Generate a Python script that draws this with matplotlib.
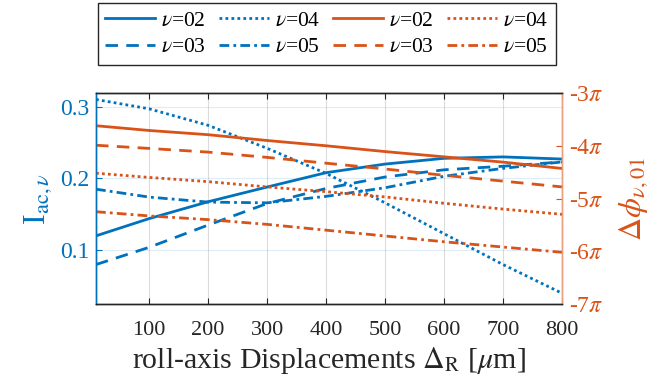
import numpy as np
import matplotlib
matplotlib.use("Agg")
import matplotlib.pyplot as plt

plt.rcParams['font.family'] = ['Liberation Serif', 'DejaVu Serif']
plt.rcParams['mathtext.fontset'] = 'stix'
plt.rcParams['lines.scale_dashes'] = False

# displacement grid [um]
disp = [10, 100, 200, 300, 400, 500, 600, 700, 800]

# I_ac,nu (left axis)
iac_02 = [0.120, 0.144, 0.1675, 0.188, 0.208, 0.220, 0.228, 0.230, 0.227]
iac_03 = [0.080, 0.104, 0.135, 0.165, 0.186, 0.202, 0.212, 0.217, 0.223]
iac_04 = [0.310, 0.297, 0.274, 0.242, 0.207, 0.166, 0.123, 0.080, 0.040]
iac_05 = [0.185, 0.174, 0.167, 0.166, 0.175, 0.187, 0.203, 0.214, 0.223]

# delta phi_nu,01 in units of pi (right axis)
dphi_02 = [-3.62, -3.71, -3.79, -3.90, -4.00, -4.11, -4.21, -4.31, -4.43]
dphi_03 = [-3.99, -4.05, -4.12, -4.22, -4.33, -4.44, -4.56, -4.67, -4.78]
dphi_04 = [-4.52, -4.60, -4.68, -4.78, -4.87, -4.97, -5.09, -5.20, -5.30]
dphi_05 = [-5.25, -5.33, -5.40, -5.49, -5.60, -5.71, -5.82, -5.92, -6.02]

labels = [r'$\nu$=02', r'$\nu$=03', r'$\nu$=04', r'$\nu$=05']
xticks = [100, 200, 300, 400, 500, 600, 700, 800]
left_ticks = [0.1, 0.2, 0.3]
right_ticks = [-7, -6, -5, -4, -3]

blue = '#0072BD'
orange = '#D95319'
dark = '#262626'
styles = ['-', (0, (9, 6)), (0, (2, 2.3)), (0, (7, 3, 2, 3))]

fig = plt.figure(figsize=(6.65, 3.86), dpi=100)
ax = fig.add_axes([0.1444, 0.2124, 0.7007, 0.5466])
ax2 = ax.twinx()

handles = []
for y, ls, lab in zip([iac_02, iac_03, iac_04, iac_05], styles, labels):
    h, = ax.plot(disp, y, color=blue, lw=2, linestyle=ls, label=lab)
    handles.append(h)
for y, ls, lab in zip([dphi_02, dphi_03, dphi_04, dphi_05], styles, labels):
    h, = ax2.plot(disp, np.array(y) * np.pi, color=orange, lw=2, linestyle=ls, label=lab)
    handles.append(h)

ax.set_xlim(10, 800)
ax.set_ylim(0.025, 0.319)
ax2.set_ylim(-7 * np.pi, -3 * np.pi)

ax.set_xticks(xticks)
ax.set_yticks(left_ticks)
ax.set_yticklabels(['0.1', '0.2', '0.3'])
ax2.set_yticks([t * np.pi for t in right_ticks])
ax2.set_yticklabels([r'-%d$\pi$' % abs(t) for t in right_ticks])

ax.grid(axis='x', color='#dcdcdc', lw=0.8)
ax.grid(axis='y', color=blue, alpha=0.12, lw=0.8)
ax.set_axisbelow(True)

ax.tick_params(axis='x', direction='in', top=True, length=4, labelsize=16, colors=dark, pad=12)
ax.tick_params(axis='y', direction='in', length=4, labelsize=17, colors=blue, pad=5)
ax2.tick_params(axis='y', direction='in', length=4, labelsize=17, colors=orange, pad=5)
for a in (ax, ax2):
    a.spines['top'].set_color(dark)
    a.spines['bottom'].set_color(dark)
    a.spines['left'].set_color(blue)
    a.spines['right'].set_color('#e8a080')
    for s in a.spines.values():
        s.set_linewidth(1.0)

ax.set_xlabel(r'roll-axis Displacements $\Delta_{\mathrm{R}}$ [$\mu$m]', fontsize=21.5, color=dark, labelpad=4)
ax.set_ylabel(r'I$_{\mathrm{ac},\nu}$', fontsize=23, color=blue, labelpad=4)
ax2.set_ylabel(r'$\Delta\phi_{\nu,01}$', fontsize=23, color=orange, labelpad=10)

leg = fig.legend(handles=handles, ncol=4, loc='upper center',
                 bbox_to_anchor=(0.4917, 0.992), fontsize=15.5,
                 handlelength=2.3, handletextpad=0.3, columnspacing=0.6,
                 labelspacing=0.3, borderpad=0.35, borderaxespad=0,
                 fancybox=False, edgecolor=dark, framealpha=1)
leg.get_frame().set_linewidth(1.0)

fig.savefig('out.png', dpi=100)
